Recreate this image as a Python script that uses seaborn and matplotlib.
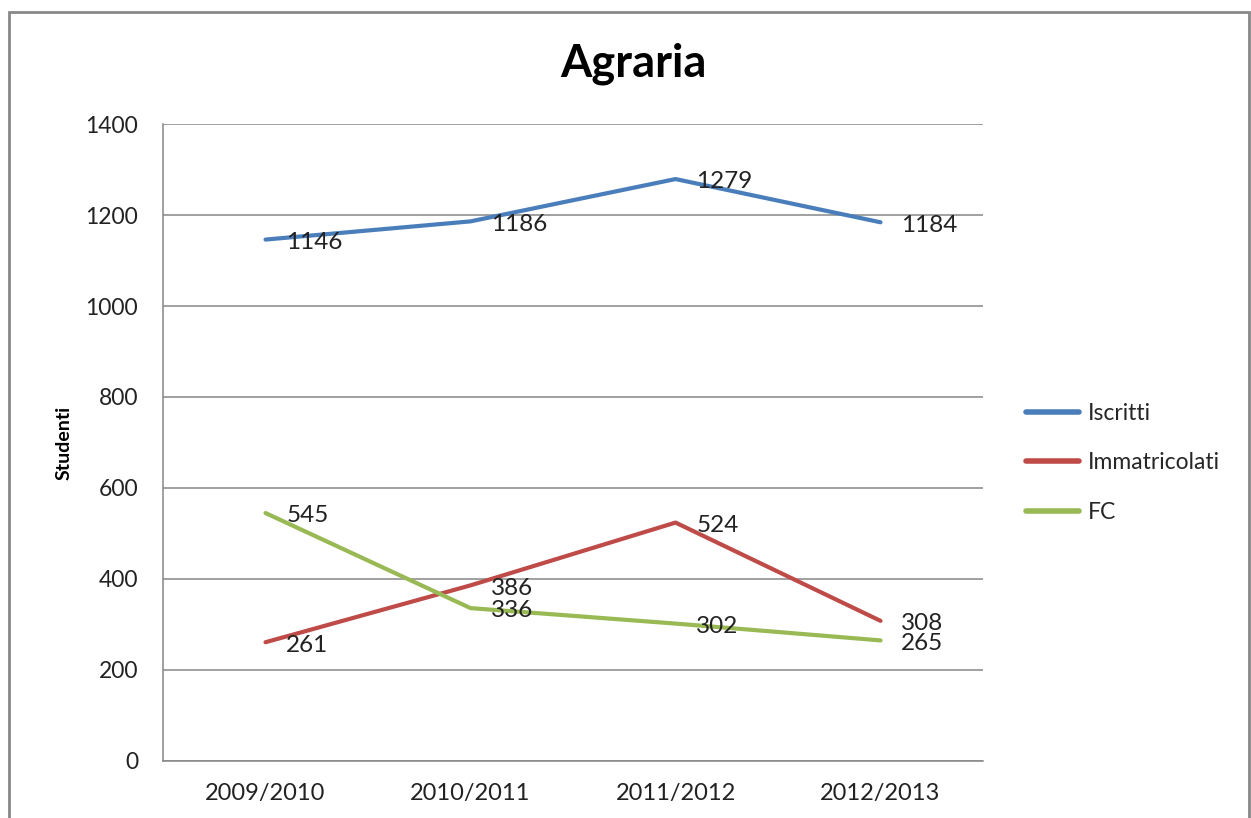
import matplotlib
matplotlib.use("Agg")
import matplotlib.pyplot as plt
import seaborn as sns
import pandas as pd
from matplotlib.patches import Rectangle

years = ["2009/2010", "2010/2011", "2011/2012", "2012/2013"]
iscritti = [1146, 1186, 1279, 1184]
immatricolati = [261, 386, 524, 308]
fc = [545, 336, 302, 265]
series_names = ["Iscritti", "Immatricolati", "FC"]
colors = ["#4A7EBB", "#BE4B48", "#98B954"]

sns.set_theme(style="white")
plt.rcParams["font.family"] = ["Lato", "DejaVu Sans"]

rows = []
for name, vals in zip(series_names, [iscritti, immatricolati, fc]):
    for y, v in zip(years, vals):
        rows.append({"Anno": y, "Studenti": v, "Serie": name})
df = pd.DataFrame(rows)

fig = plt.figure(figsize=(12.51, 8.18), dpi=100)
ax = fig.add_axes([0.1303, 0.0697, 0.6555, 0.7787])

sns.lineplot(data=df, x="Anno", y="Studenti", hue="Serie", hue_order=series_names,
             palette=colors, linewidth=3.0, ax=ax, sort=False)

for name, vals in zip(series_names, [iscritti, immatricolati, fc]):
    for i, v in enumerate(vals):
        ax.annotate(str(v), (i, v), xytext=(15, -2), textcoords="offset points",
                    va="center", ha="left", fontsize=17.5, color="#222222")

ax.set_xlim(-0.5, 3.5)
ax.set_ylim(0, 1400)
ax.set_yticks(range(0, 1401, 200))
ax.yaxis.grid(True, color="#868686", linewidth=1.1)
ax.xaxis.grid(False)
for s in ["top", "right"]:
    ax.spines[s].set_visible(False)
for s in ["left", "bottom"]:
    ax.spines[s].set_color("#868686")
    ax.spines[s].set_linewidth(1.1)
ax.tick_params(axis="y", length=0, pad=18, labelsize=16.5, labelcolor="#222222")
ax.tick_params(axis="x", length=0, pad=16, labelsize=17, labelcolor="#222222")
ax.set_xlabel("")
ax.set_ylabel("Studenti", fontsize=14, fontweight="bold", color="black", labelpad=9)

fig.text(0.506, 0.922, "Agraria", ha="center", va="center", fontsize=32.5, fontweight="bold", color="black")

leg = ax.legend(loc="center left", bbox_to_anchor=(0.804, 0.434), bbox_transform=fig.transFigure,
                frameon=False, fontsize=16.5, handlelength=2.3, labelspacing=1.25, handletextpad=0.4)
for line in leg.get_lines():
    line.set_linewidth(4)

fig.patches.append(Rectangle((0.0072, -0.02), 0.991, 1.0055, transform=fig.transFigure,
                             fill=False, edgecolor="#888888", linewidth=2))

fig.savefig("out.png", dpi=100)
